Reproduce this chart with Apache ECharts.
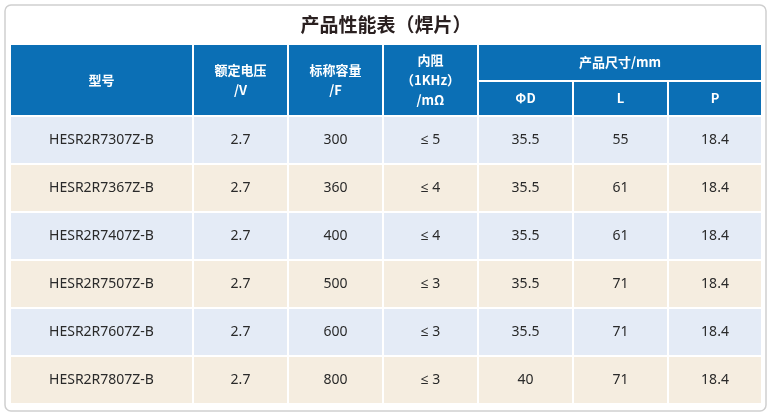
<!DOCTYPE html>
<html><head><meta charset="utf-8">
<script src="https://cdn.jsdelivr.net/npm/echarts@6/dist/echarts.min.js"></script>
<style>html,body{margin:0;padding:0;background:#fff}#c{width:772px;height:417px}</style>
</head><body><div id="c"></div>
<script>
const models = ["HESR2R7307Z-B","HESR2R7367Z-B","HESR2R7407Z-B","HESR2R7507Z-B","HESR2R7607Z-B","HESR2R7807Z-B"];
const voltages = ["2.7","2.7","2.7","2.7","2.7","2.7"];
const capacitances = ["300","360","400","500","600","800"];
const resistances = ["≤ 5","≤ 4","≤ 4","≤ 3","≤ 3","≤ 3"];
const diameters = ["35.5","35.5","35.5","35.5","35.5","40"];
const lengths = ["55","61","61","71","71","71"];
const pitches = ["18.4","18.4","18.4","18.4","18.4","18.4"];
const headers = ["型号","额定电压\n/V","标称容量\n/F","内阻\n（1KHz）\n/mΩ"];
const sizeHeader = "产品尺寸/mm";
const subHeaders = ["ΦD","L","P"];
const title = "产品性能表（焊片）";

const colX = [10,193,288,383,478,573,668,762];
const headTop = 44, headMid = 81, headBot = 116;
const rowH = 48;
const G = 2;
const font = '"Noto Sans CJK SC","Noto Sans",sans-serif';
const dataFont = '"Noto Sans","Open Sans",sans-serif';
const BLUE = '#0b6fb5', C1 = '#e4ebf6', C2 = '#f5ede0';

const cells = [];
headers.forEach((h,i)=>cells.push({x0:colX[i],x1:colX[i+1],y0:headTop,y1:headBot,t:h,fill:BLUE,head:true}));
cells.push({x0:colX[4],x1:colX[7],y0:headTop,y1:headMid,t:sizeHeader,fill:BLUE,head:true});
subHeaders.forEach((h,i)=>cells.push({x0:colX[4+i],x1:colX[5+i],y0:headMid,y1:headBot,t:h,fill:BLUE,head:true}));
const cols = [models,voltages,capacitances,resistances,diameters,lengths,pitches];
models.forEach((m,r)=>{
  const y0 = headBot + r*rowH;
  cols.forEach((c,i)=>cells.push({x0:colX[i],x1:colX[i+1],y0:y0,y1:y0+rowH,t:c[r],fill:r%2?C2:C1,head:false}));
});

const chart = echarts.init(document.getElementById('c'));
chart.setOption({
  animation:false,
  title:{text:title,left:'center',top:10,textStyle:{fontFamily:font,fontSize:19,fontWeight:'bold',color:'#2a2020'}},
  grid:{left:0,right:0,top:0,bottom:0},
  xAxis:{type:'value',min:0,max:772,show:false},
  yAxis:{type:'value',min:0,max:417,inverse:true,show:false},
  graphic:[{type:'rect',shape:{x:5,y:5,width:761,height:406,r:6},style:{fill:'none',stroke:'#cfcfcf',lineWidth:1.5},z:-1}],
  series:[{
    type:'custom',
    data:cells.map((c,i)=>[c.x0,c.y0,c.x1,c.y1,i]),
    renderItem:(params,api)=>{
      const c = cells[api.value(4)];
      const p0 = api.coord([api.value(0),api.value(1)]);
      const p1 = api.coord([api.value(2),api.value(3)]);
      const x = p0[0]+G/2, y = p0[1]+G/2, w = p1[0]-p0[0]-G, h = p1[1]-p0[1]-G;
      return {type:'group',children:[
        {type:'rect',shape:{x:x,y:y,width:w,height:h},style:{fill:c.fill}},
        {type:'text',style:{x:x+w/2,y:y+h/2,text:c.t,align:'center',verticalAlign:'middle',
          fill:c.head?'#fff':'#2a2a2a',fontFamily:c.head?font:dataFont,fontSize:c.head?13:14,fontWeight:c.head?'bold':'normal',lineHeight:c.head?20:16}}
      ]};
    }
  }]
});
</script></body></html>
